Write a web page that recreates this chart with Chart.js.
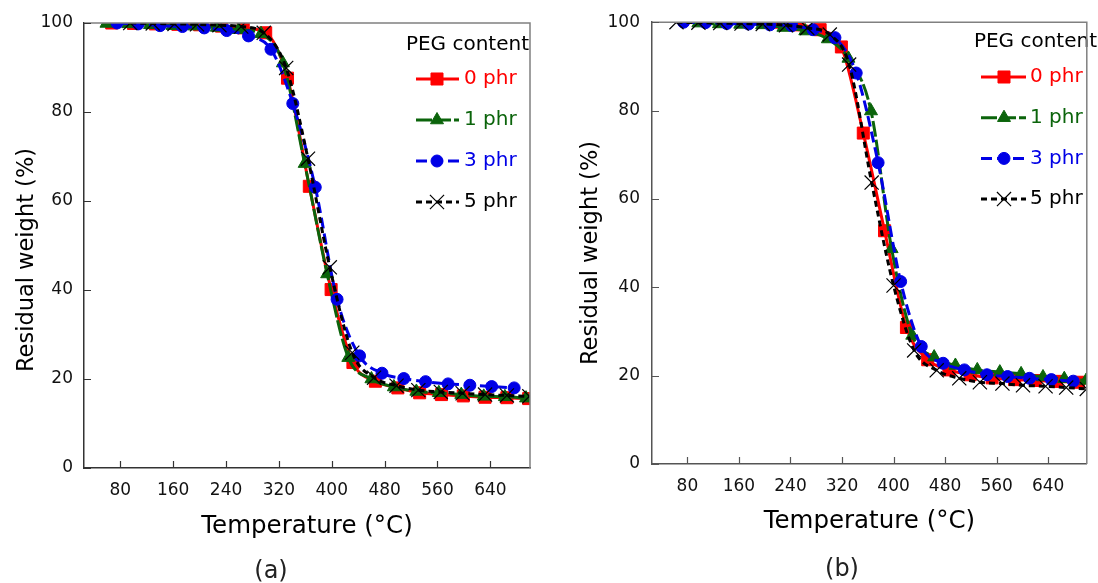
<!DOCTYPE html>
<html>
<head>
<meta charset="utf-8">
<script src="https://cdn.jsdelivr.net/npm/chart.js@4.4.1/dist/chart.umd.min.js"></script>
<style>
  body { margin: 0; background: #fff; }
  #wrap { position: relative; width: 1098px; height: 583px; overflow: hidden; font-family: 'DejaVu Sans', sans-serif; }
  .pane { position: absolute; top: 0; }
  .cap { position: absolute; font-size: 24px; color: #222; transform: translate(-50%, -50%); white-space: nowrap; }
</style>
</head>
<body>
<div id="wrap">
  <canvas id="chartA" class="pane" width="549" height="583" style="left:0"></canvas>
  <canvas id="chartB" class="pane" width="549" height="583" style="left:549px"></canvas>
  <div class="cap" style="left:271px;top:570px">(a)</div>
  <div class="cap" style="left:842px;top:568px">(b)</div>
</div>
<script>
// PEG content series
var seriesNames = ['0 phr', '1 phr', '3 phr', '5 phr'];
var seriesColors = ['#ff0000', '#0b640b', '#0000e6', '#000000'];
var xTicks = [80, 160, 240, 320, 400, 480, 560, 640];
var yTicks = [0, 20, 40, 60, 80, 100];

// (a) temperature (°C) / residual weight (%)
var tempA0 = [67, 100, 133, 167, 200, 233, 266, 300, 333, 366, 399, 432, 466, 500, 533, 566, 599, 632, 665, 698];
var wtA0   = [100, 99.9, 99.8, 99.7, 99.6, 99.3, 98.9, 97.8, 87.6, 63.3, 40.1, 23.7, 19.5, 18.0, 16.9, 16.5, 16.2, 15.9, 15.8, 15.6];
var tempA1 = [59, 92, 125, 159, 192, 226, 259, 293, 326, 359, 393, 425, 460, 494, 528, 562, 596, 630, 662, 694];
var wtA1   = [99.9, 99.8, 99.6, 99.4, 99.3, 99.0, 98.5, 97.6, 91.0, 68.4, 43.6, 24.8, 20.0, 18.2, 17.2, 16.9, 16.5, 16.1, 16.0, 15.7];
var tempA3 = [75, 107, 140, 174, 207, 241, 274, 308, 341, 375, 408, 442, 476, 509, 542, 576, 609, 642, 676];
var wtA3   = [100, 99.8, 99.4, 99.2, 98.9, 98.3, 97.1, 94.1, 81.9, 63.1, 37.9, 25.2, 21.3, 20.1, 19.4, 18.9, 18.6, 18.3, 18.0];
var tempA5 = [95, 129, 162, 196, 230, 263, 297, 331, 364, 397, 431, 464, 498, 531, 565, 598, 632, 665, 699];
var wtA5   = [100, 99.9, 99.8, 99.7, 99.5, 99.2, 97.8, 89.9, 69.5, 45.1, 25.9, 20.3, 18.5, 17.5, 17.1, 16.8, 16.5, 16.3, 16.1];

// (b)
var tempB0 = [219, 252, 286, 319, 353, 386, 420, 453, 486, 519, 553, 588, 620, 653, 687];
var wtB0   = [100, 99.4, 98.3, 94.4, 74.9, 52.8, 30.9, 23.6, 21.3, 20.2, 19.5, 19.1, 18.9, 18.7, 18.5];
var tempB1 = [97, 129, 162, 196, 229, 263, 298, 330, 365, 397, 429, 463, 496, 530, 565, 598, 632, 665, 699];
var wtB1   = [99.8, 99.6, 99.5, 99.4, 98.8, 98.0, 96.2, 91.8, 79.9, 48.7, 29.1, 24.2, 22.3, 21.3, 20.8, 20.4, 19.7, 19.3, 18.9];
var tempB3 = [74, 108, 141, 175, 208, 242, 275, 309, 342, 376, 411, 443, 477, 510, 545, 577, 611, 645, 679];
var wtB3   = [100, 99.9, 99.7, 99.6, 99.4, 99.2, 98.3, 96.5, 88.5, 68.2, 41.3, 26.6, 22.8, 21.3, 20.2, 19.8, 19.4, 19.1, 18.75];
var tempB5 = [63, 97, 131, 164, 197, 233, 266, 301, 331, 366, 400, 432, 467, 502, 534, 569, 601, 636, 668, 700];
var wtB5   = [100, 99.9, 99.8, 99.7, 99.6, 99.3, 98.7, 97.2, 90.4, 63.7, 40.4, 25.7, 21.2, 19.4, 18.5, 18.2, 17.8, 17.6, 17.3, 17.0];

Chart.defaults.font.family = "'DejaVu Sans', sans-serif";
Chart.defaults.color = '#111';

var markStyles = [
  { pointStyle: 'rect', pointRadius: 8.5, borderDash: [], drawOrder: 4, pbw: 1 },
  { pointStyle: 'triangle', pointRadius: 7.5, borderDash: [16, 3], drawOrder: 3, pbw: 1 },
  { pointStyle: 'circle', pointRadius: 6, borderDash: [11, 5], drawOrder: 2, pbw: 1 },
  { pointStyle: 'crossRot', pointRadius: 10, borderDash: [6, 4], drawOrder: 1, pbw: 1.2 }
];

function makeSets(temps, wts) {
  return temps.map(function (t, i) {
    var s = markStyles[i];
    return {
      label: seriesNames[i],
      data: t.map(function (v, j) { return { x: v, y: wts[i][j] }; }),
      borderColor: seriesColors[i],
      backgroundColor: seriesColors[i],
      pointBackgroundColor: seriesColors[i],
      pointBorderColor: seriesColors[i],
      pointBorderWidth: s.pbw,
      borderWidth: 3,
      borderDash: s.borderDash,
      pointStyle: s.pointStyle,
      pointRadius: s.pointRadius,
      cubicInterpolationMode: 'monotone',
      order: s.drawOrder
    };
  });
}

// legend drawn inside the plot
var pegLegend = {
  id: 'pegLegend',
  afterDatasetsDraw: function (chart, args, o) {
    var ctx = chart.ctx;
    ctx.save();
    ctx.font = '20px "DejaVu Sans"';
    ctx.textBaseline = 'middle';
    ctx.fillStyle = '#000';
    ctx.textAlign = 'right';
    ctx.fillText('PEG content', o.headRight, o.headY);
    ctx.textAlign = 'left';
    chart.data.datasets.forEach(function (ds, i) {
      var y = o.y0 + i * o.dy;
      ctx.strokeStyle = ds.borderColor;
      ctx.lineWidth = 3;
      ctx.setLineDash(ds.borderDash);
      ctx.beginPath();
      ctx.moveTo(o.lineX0, y);
      ctx.lineTo(o.lineX1, y);
      ctx.stroke();
      ctx.setLineDash([]);
      ctx.fillStyle = ds.borderColor;
      ctx.lineWidth = ds.pointBorderWidth;
      Chart.helpers.drawPoint(ctx, { pointStyle: ds.pointStyle, radius: ds.pointRadius, borderWidth: ds.pointBorderWidth, rotation: 0 }, o.markX, y);
      ctx.fillText(ds.label, o.textX, y);
    });
    ctx.restore();
  }
};

// frame, inward tick marks and the vertical axis title
var framePlugin = {
  id: 'frame',
  afterDraw: function (chart, args, o) {
    var ctx = chart.ctx, a = chart.chartArea;
    ctx.save();
    ctx.strokeStyle = o.frameColor;
    ctx.lineWidth = 1.5;
    ctx.beginPath();
    ctx.moveTo(a.left, a.top);
    ctx.lineTo(a.right, a.top);
    ctx.lineTo(a.right, a.bottom);
    ctx.stroke();
    ctx.strokeStyle = o.tickColor;
    ctx.lineWidth = 1.2;
    ctx.beginPath();
    chart.scales.x.ticks.forEach(function (t) {
      var px = Math.round(chart.scales.x.getPixelForValue(t.value)) + 0.5;
      ctx.moveTo(px, a.bottom);
      ctx.lineTo(px, a.bottom - 7);
    });
    chart.scales.y.ticks.forEach(function (t) {
      var py = Math.round(chart.scales.y.getPixelForValue(t.value)) + 0.5;
      ctx.moveTo(a.left, py);
      ctx.lineTo(a.left + 7, py);
    });
    ctx.stroke();
    ctx.translate(o.yTitleX, o.yTitleY);
    ctx.rotate(-Math.PI / 2);
    ctx.font = '22.5px "DejaVu Sans"';
    ctx.fillStyle = '#000';
    ctx.textAlign = 'center';
    ctx.textBaseline = 'middle';
    ctx.fillText('Residual weight (%)', 0, 0);
    ctx.restore();
  }
};

function makeConfig(sets, g) {
  return {
    type: 'line',
    data: { datasets: sets },
    plugins: [pegLegend, framePlugin],
    options: {
      responsive: false,
      animation: false,
      layout: { padding: { left: 0, top: g.top, right: g.right, bottom: 0 } },
      plugins: {
        legend: { display: false },
        tooltip: { enabled: false },
        pegLegend: g.legend,
        frame: { frameColor: g.frameColor, tickColor: g.axisColor, yTitleX: g.yTitleX, yTitleY: g.yTitleY }
      },
      scales: {
        x: {
          type: 'linear',
          min: 25,
          max: 700,
          afterBuildTicks: function (s) { s.ticks = xTicks.map(function (v) { return { value: v }; }); },
          afterFit: function (s) { s.height = g.xHeight; },
          grid: { display: false, drawTicks: false },
          border: { display: true, color: g.axisColor, width: 1.5 },
          ticks: { font: { size: 17 }, color: '#111', padding: 12, autoSkip: false, maxRotation: 0 },
          title: { display: true, text: 'Temperature (°C)', font: { size: 24.5 }, color: '#000', padding: { top: 0, bottom: g.xTitlePad } }
        },
        y: {
          min: 0,
          max: 100,
          afterBuildTicks: function (s) { s.ticks = yTicks.map(function (v) { return { value: v }; }); },
          afterFit: function (s) { s.width = g.yWidth; },
          grid: { display: false, drawTicks: false },
          border: { display: true, color: g.axisColor, width: 1.5 },
          ticks: { font: { size: 17 }, color: '#111', padding: g.yTickPad }
        }
      }
    }
  };
}

var setsA = makeSets([tempA0, tempA1, tempA3, tempA5], [wtA0, wtA1, wtA3, wtA5]);
var setsB = makeSets([tempB0, tempB1, tempB3, tempB5], [wtB0, wtB1, wtB3, wtB5]);

new Chart(document.getElementById('chartA'), makeConfig(setsA, {
  top: 23, right: 19, xHeight: 115, yWidth: 84, xTitlePad: 42, yTickPad: 11, yTitleX: 27, yTitleY: 260,
  axisColor: '#333', frameColor: '#808080',
  legend: { headRight: 529, headY: 45, y0: 79, dy: 41, lineX0: 416, lineX1: 459, markX: 437, textX: 464 }
}));

new Chart(document.getElementById('chartB'), makeConfig(setsB, {
  top: 21, right: 4, xHeight: 119, yWidth: 103, xTitlePad: 47, yTickPad: 12, yTitleX: 42, yTitleY: 253,
  axisColor: '#555', frameColor: '#808080',
  legend: { headRight: 548, headY: 42, y0: 77, dy: 40.7, lineX0: 432, lineX1: 477, markX: 455, textX: 481 }
}));
</script>
</body>
</html>
